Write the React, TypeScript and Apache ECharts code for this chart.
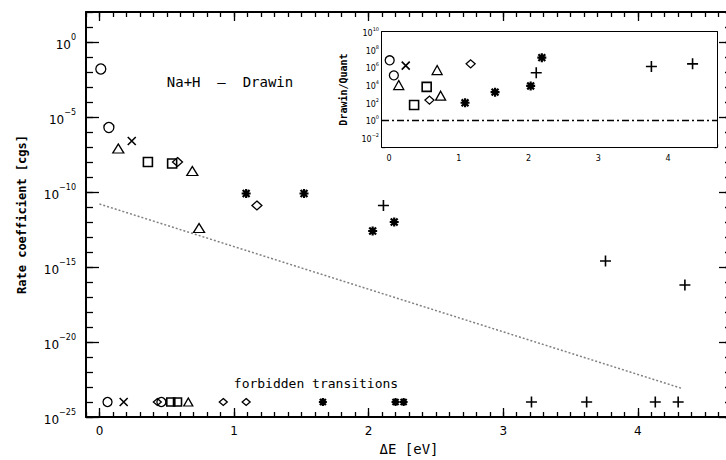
import React, { useEffect, useRef } from "react";
import * as echarts from "echarts";

// ---------- Main panel: rate coefficients, stored as log10(rate [cgs]) ----------
const circleDeltaE = [0.01, 0.07];
const circleLogRate = [-1.8, -5.7];
const crossDeltaE = [0.24];
const crossLogRate = [-6.6];
const triangleDeltaE = [0.14, 0.69, 0.74];
const triangleLogRate = [-7.1, -8.6, -12.4];
const squareDeltaE = [0.36, 0.54];
const squareLogRate = [-8.0, -8.1];
const diamondDeltaE = [0.58, 1.17];
const diamondLogRate = [-8.0, -10.9];
const asteriskDeltaE = [1.09, 1.52, 2.03, 2.19];
const asteriskLogRate = [-10.1, -10.1, -12.6, -12.0];
const plusDeltaE = [2.11, 3.76, 4.35];
const plusLogRate = [-10.9, -14.6, -16.2];

// forbidden transitions, all plotted at 1e-24
const forbiddenLogRate = -24;
const forbiddenCircleDeltaE = [0.06, 0.46];
const forbiddenCrossDeltaE = [0.18];
const forbiddenDiamondDeltaE = [0.43, 0.92, 1.09];
const forbiddenSquareDeltaE = [0.53, 0.58];
const forbiddenTriangleDeltaE = [0.66];
const forbiddenAsteriskDeltaE = [1.66, 2.2, 2.26];
const forbiddenPlusDeltaE = [3.21, 3.62, 4.13, 4.3];

// dotted reference line (log10 rate)
const refLineDeltaE = [0.0, 4.33];
const refLineLogRate = [-10.8, -23.1];

// ---------- Inset: log10(Drawin / Quant) ----------
const circleLogRatio = [6.8, 5.1];
const crossLogRatio = [6.2];
const triangleLogRatio = [4.0, 5.7, 2.8];
const squareLogRatio = [1.75, 3.8];
const diamondLogRatio = [2.3, 6.4];
const asteriskLogRatio = [2.0, 3.2, 3.9, 7.1];
const plusLogRatio = [5.4, 6.1, 6.4];
const unityDeltaE = [-0.1, 4.7];
const unityLogRatio = [0, 0];

// ---------- ticks ----------
const xMajorTicks = [0, 1, 2, 3, 4];
const xMinorTicks = Array.from({ length: 49 }, (_, i) => Math.round((-0.1 + i * 0.1) * 100) / 100);
const mainMajorExp = [-25, -20, -15, -10, -5, 0];
const mainMinorExp = Array.from({ length: 28 }, (_, i) => -25 + i);
const insetMajorExp = [-2, 0, 2, 4, 6, 8, 10];
const insetMinorExp = Array.from({ length: 14 }, (_, i) => -3 + i);

const FONT = "'DejaVu Sans', sans-serif";
const MONO = "'DejaVu Sans Mono', monospace";
const BLACK = "#000";

const SYM: Record<string, string> = {
  circle: "circle",
  cross: "path://M0,0L10,10M10,0L0,10",
  triangle: "triangle",
  square: "rect",
  diamond: "diamond",
  asterisk: "path://M5,0L5,10M0,5L10,5M1.2,1.2L8.8,8.8M8.8,1.2L1.2,8.8",
  plus: "path://M5,0L5,10M0,5L10,5",
};

function pts(xs: number[], ys: number[] | number) {
  return xs.map((x, i) => [x, Array.isArray(ys) ? ys[i] : ys]);
}

function scatter(
  name: string,
  data: number[][],
  symbol: string,
  size: number | number[],
  xi: number,
  yi: number,
  bw = 1.3
) {
  return {
    name,
    type: "scatter",
    xAxisIndex: xi,
    yAxisIndex: yi,
    symbol: SYM[symbol],
    symbolSize: size,
    data,
    silent: true,
    itemStyle: { color: "rgba(0,0,0,0)", borderColor: BLACK, borderWidth: bw, opacity: 1 },
    z: 5,
  };
}

function expLabel(v: number) {
  const n = Math.round(v);
  const s = n < 0 ? "\u2212" + String(-n) : String(n);
  return `{b|10}{e|${s}}`;
}

function xAxis(grid: number, pos: string, ticks: number[], len: number, showLine: boolean, label?: any) {
  return {
    gridIndex: grid,
    type: "value",
    position: pos,
    min: -0.1,
    max: 4.7,
    axisLine: { show: showLine, onZero: false, lineStyle: { color: BLACK, width: 2 } },
    axisTick: { show: true, inside: true, length: len, customValues: ticks, lineStyle: { color: BLACK, width: 1.3 } },
    axisLabel: label ? { ...label, customValues: xMajorTicks } : { show: false, customValues: ticks },
    splitLine: { show: false },
  };
}

function yAxis(
  grid: number,
  pos: string,
  min: number,
  max: number,
  ticks: number[],
  len: number,
  showLine: boolean,
  label?: any,
  extra: any = {}
) {
  return {
    gridIndex: grid,
    type: "value",
    position: pos,
    min,
    max,
    axisLine: { show: showLine, onZero: false, lineStyle: { color: BLACK, width: 2 } },
    axisTick: { show: true, inside: true, length: len, customValues: ticks, lineStyle: { color: BLACK, width: 1.3 } },
    axisLabel: label ? label : { show: false, customValues: ticks },
    splitLine: { show: false },
    ...extra,
  };
}

export default function App() {
  const ref = useRef<HTMLDivElement>(null);
  useEffect(() => {
    const chart = echarts.init(ref.current as HTMLDivElement, null, { renderer: "svg" });

    const mainXLabel = { show: true, margin: 8, color: BLACK, fontSize: 12, fontFamily: FONT };
    const insetXLabel = { show: true, margin: 7, color: BLACK, fontSize: 8, fontFamily: FONT };

    const mainYLabel = {
      show: true,
      customValues: mainMajorExp,
      margin: 10,
      color: BLACK,
      formatter: expLabel,
      rich: {
        b: { fontSize: 12, fontFamily: FONT, color: BLACK, lineHeight: 18, verticalAlign: "bottom" },
        e: { fontSize: 8, fontFamily: FONT, color: BLACK, lineHeight: 10, verticalAlign: "top" },
      },
    };
    const insetYLabel = {
      show: true,
      customValues: insetMajorExp,
      margin: 3,
      color: BLACK,
      formatter: expLabel,
      rich: {
        b: { fontSize: 8, fontFamily: FONT, color: BLACK, lineHeight: 11, verticalAlign: "bottom" },
        e: { fontSize: 5, fontFamily: FONT, color: BLACK, lineHeight: 6, verticalAlign: "top" },
      },
    };

    const option: any = {
      animation: false,
      backgroundColor: "#fff",
      grid: [
        { left: 86, top: 12, width: 646, height: 405, outerBoundsMode: "none", containLabel: false },
        {
          left: 382,
          top: 32,
          width: 335,
          height: 115,
          outerBoundsMode: "none",
          containLabel: false,
          show: true,
          backgroundColor: "#fff",
          borderWidth: 0,
          z: 3,
        },
      ],
      xAxis: [
        {
          ...xAxis(0, "bottom", xMajorTicks, 9, true, mainXLabel),
          name: "\u0394E [eV]",
          nameLocation: "middle",
          nameGap: 25,
          nameTextStyle: { fontSize: 14, fontFamily: MONO, color: BLACK },
        },
        xAxis(0, "bottom", xMinorTicks, 5, false),
        xAxis(0, "top", xMajorTicks, 9, true),
        xAxis(0, "top", xMinorTicks, 5, false),
        xAxis(1, "bottom", xMajorTicks, 5, true, insetXLabel),
        xAxis(1, "bottom", xMinorTicks, 3, false),
        xAxis(1, "top", xMajorTicks, 3, true),
      ],
      yAxis: [
        yAxis(0, "left", -25, 2, mainMajorExp, 13, true, mainYLabel, {
          name: "Rate coefficient [cgs]",
          nameLocation: "middle",
          nameRotate: 90,
          nameGap: 58,
          nameTextStyle: { fontSize: 12, fontFamily: MONO, color: BLACK, fontWeight: "bold" },
        }),
        yAxis(0, "left", -25, 2, mainMinorExp, 7, false),
        yAxis(0, "right", -25, 2, mainMajorExp, 13, true),
        yAxis(0, "right", -25, 2, mainMinorExp, 7, false),
        yAxis(1, "left", -3, 10, insetMajorExp, 6, true, insetYLabel, {
          name: "Drawin/Quant",
          nameLocation: "middle",
          nameRotate: 90,
          nameGap: 34,
          nameTextStyle: { fontSize: 10, fontFamily: MONO, color: BLACK, fontWeight: "bold" },
        }),
        yAxis(1, "left", -3, 10, insetMinorExp, 3, false),
        yAxis(1, "right", -3, 10, insetMajorExp, 6, true),
        yAxis(1, "right", -3, 10, insetMinorExp, 3, false),
      ],
      graphic: [
        {
          type: "text",
          x: 230,
          y: 82,
          z: 10,
          style: {
            text: "Na+H  \u2013  Drawin",
            textAlign: "center",
            textVerticalAlign: "middle",
            fontSize: 14,
            fontFamily: MONO,
            fill: BLACK,
          },
        },
        {
          type: "text",
          x: 316,
          y: 383,
          z: 10,
          style: {
            text: "forbidden transitions",
            textAlign: "center",
            textVerticalAlign: "middle",
            fontSize: 13,
            fontFamily: MONO,
            fill: BLACK,
          },
        },
      ],
      series: [
        {
          type: "line",
          xAxisIndex: 0,
          yAxisIndex: 0,
          data: pts(refLineDeltaE, refLineLogRate),
          showSymbol: false,
          silent: true,
          lineStyle: { color: "#808080", width: 1.5, type: [2, 2] },
          z: 2,
        },
        // main panel, allowed transitions
        scatter("circle", pts(circleDeltaE, circleLogRate), "circle", 10, 0, 0),
        scatter("cross", pts(crossDeltaE, crossLogRate), "cross", 8, 0, 0, 1.6),
        scatter("triangle", pts(triangleDeltaE, triangleLogRate), "triangle", [11, 9], 0, 0),
        scatter("square", pts(squareDeltaE, squareLogRate), "square", 9, 0, 0, 1.6),
        scatter("diamond", pts(diamondDeltaE, diamondLogRate), "diamond", [10, 9], 0, 0),
        scatter("asterisk", pts(asteriskDeltaE, asteriskLogRate), "asterisk", 9, 0, 0, 2.2),
        scatter("plus", pts(plusDeltaE, plusLogRate), "plus", 11, 0, 0, 1.6),
        // main panel, forbidden transitions
        scatter("f-circle", pts(forbiddenCircleDeltaE, forbiddenLogRate), "circle", 9, 0, 0),
        scatter("f-cross", pts(forbiddenCrossDeltaE, forbiddenLogRate), "cross", 8, 0, 0, 1.6),
        scatter("f-diamond", pts(forbiddenDiamondDeltaE, forbiddenLogRate), "diamond", [8, 7], 0, 0),
        scatter("f-square", pts(forbiddenSquareDeltaE, forbiddenLogRate), "square", 8, 0, 0, 1.6),
        scatter("f-triangle", pts(forbiddenTriangleDeltaE, forbiddenLogRate), "triangle", [9, 8], 0, 0),
        scatter("f-asterisk", pts(forbiddenAsteriskDeltaE, forbiddenLogRate), "asterisk", 8, 0, 0, 2.2),
        scatter("f-plus", pts(forbiddenPlusDeltaE, forbiddenLogRate), "plus", 11, 0, 0, 1.6),
        // inset
        {
          type: "line",
          xAxisIndex: 4,
          yAxisIndex: 4,
          data: pts(unityDeltaE, unityLogRatio),
          showSymbol: false,
          silent: true,
          lineStyle: { color: BLACK, width: 1.5, type: [7, 3, 2, 3] },
          z: 4,
        },
        scatter("i-circle", pts(circleDeltaE, circleLogRatio), "circle", 9, 4, 4),
        scatter("i-cross", pts(crossDeltaE, crossLogRatio), "cross", 8, 4, 4, 1.6),
        scatter("i-triangle", pts(triangleDeltaE, triangleLogRatio), "triangle", [10, 9], 4, 4),
        scatter("i-square", pts(squareDeltaE, squareLogRatio), "square", 9, 4, 4, 1.6),
        scatter("i-diamond", pts(diamondDeltaE, diamondLogRatio), "diamond", [9, 8], 4, 4),
        scatter("i-asterisk", pts(asteriskDeltaE, asteriskLogRatio), "asterisk", 9, 4, 4, 2.2),
        scatter("i-plus", pts(plusDeltaE, plusLogRatio), "plus", 11, 4, 4, 1.6),
      ],
    };

    chart.setOption(option);
    return () => chart.dispose();
  }, []);

  return (
    <div
      ref={ref}
      style={{ position: "fixed", left: 0, top: 0, width: 726, height: 460, background: "#fff" }}
    />
  );
}
